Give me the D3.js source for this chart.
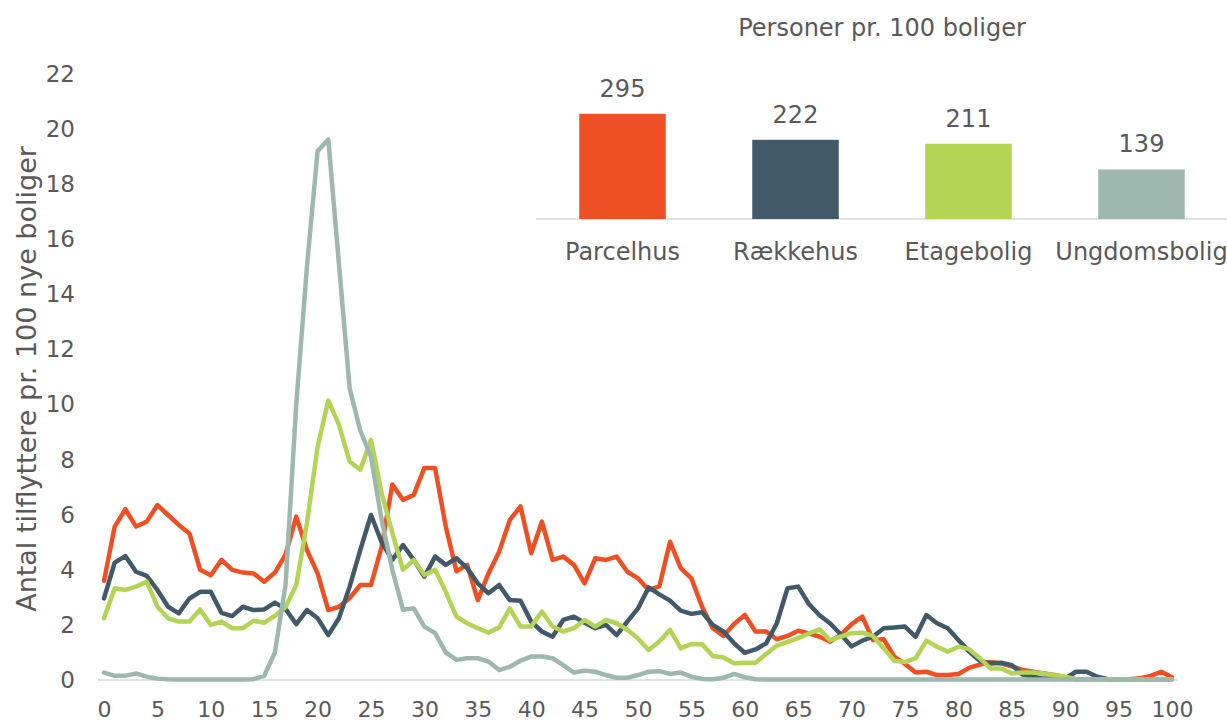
<!DOCTYPE html>
<html>
<head>
<meta charset="utf-8">
<script src="https://cdn.jsdelivr.net/npm/d3@7"></script>
<style>
  html, body { margin: 0; padding: 0; background: #ffffff; }
  svg { display: block; font-family: "DejaVu Sans", Verdana, sans-serif; }
</style>
</head>
<body>
<svg id="chart" width="1227" height="722"></svg>
<script>
// ---------- data ----------
const ages = d3.range(0, 101);
const xTicks = [0,5,10,15,20,25,30,35,40,45,50,55,60,65,70,75,80,85,90,95,100];
const yTicks = [0,2,4,6,8,10,12,14,16,18,20,22];

const parcelhus = [3.6,5.57,6.2,5.57,5.75,6.35,5.99,5.63,5.32,4.0,
  3.8,4.36,4.0,3.9,3.87,3.57,3.9,4.55,5.93,4.72,
  3.87,2.54,2.66,2.97,3.45,3.45,4.84,7.1,6.54,6.72,
  7.7,7.7,5.57,3.95,4.18,2.9,3.87,4.66,5.81,6.3,
  4.6,5.75,4.36,4.48,4.18,3.51,4.42,4.36,4.48,3.93,
  3.69,3.27,3.4,5.02,4.06,3.69,2.66,1.88,1.6,2.03,
  2.36,1.76,1.76,1.48,1.6,1.79,1.69,1.57,1.39,1.65,
  2.03,2.3,1.45,1.48,0.85,0.58,0.27,0.3,0.18,0.18,
  0.22,0.44,0.56,0.65,0.6,0.5,0.36,0.3,0.24,0.18,
  0.1,0.03,0.03,0.03,0.03,0.03,0.03,0.06,0.15,0.3,
  0.1];
const raekkehus = [2.96,4.26,4.5,3.93,3.78,3.27,2.66,2.42,2.96,3.2,
  3.2,2.44,2.32,2.66,2.54,2.56,2.81,2.58,2.03,2.54,
  2.24,1.63,2.24,3.39,4.72,5.99,5.0,4.36,4.9,4.36,
  3.75,4.48,4.18,4.42,4.06,3.51,3.15,3.45,2.9,2.88,
  2.12,1.76,1.57,2.18,2.3,2.08,1.88,2.0,1.63,2.12,
  2.6,3.36,3.11,2.88,2.52,2.4,2.46,2.0,1.76,1.33,
  0.99,1.11,1.33,2.06,3.33,3.39,2.76,2.35,2.05,1.65,
  1.22,1.43,1.57,1.88,1.91,1.94,1.57,2.36,2.06,1.88,
  1.45,1.03,0.7,0.6,0.63,0.54,0.2,0.12,0.05,0.04,
  0.05,0.3,0.3,0.12,0.03,0.03,0.03,0.03,0.03,0.03,
  0.03];
const etagebolig = [2.24,3.33,3.27,3.39,3.57,2.66,2.24,2.12,2.12,2.56,
  2.0,2.12,1.88,1.88,2.15,2.08,2.33,2.65,3.45,5.69,
  8.47,10.15,9.26,7.93,7.63,8.72,6.78,5.33,4.0,4.36,
  3.81,4.0,3.2,2.3,2.06,1.88,1.72,1.91,2.6,1.94,
  1.94,2.48,1.94,1.76,1.88,2.18,1.94,2.18,2.06,1.82,
  1.51,1.09,1.4,1.82,1.15,1.31,1.3,0.87,0.82,0.61,
  0.63,0.63,0.94,1.25,1.38,1.52,1.69,1.84,1.44,1.58,
  1.7,1.72,1.6,1.15,0.7,0.65,0.79,1.43,1.21,1.03,
  1.21,1.12,0.79,0.42,0.42,0.24,0.27,0.27,0.24,0.17,
  0.12,0.03,0.03,0.03,0.03,0.03,0.03,0.03,0.03,0.03,
  0.03];
const ungdomsbolig = [0.27,0.15,0.15,0.24,0.12,0.05,0.03,0.02,0.02,0.02,
  0.02,0.02,0.02,0.02,0.03,0.15,1.0,3.45,10.0,15.0,
  19.2,19.62,15.1,10.59,9.05,8.1,5.8,4.0,2.55,2.6,
  1.94,1.7,1.0,0.73,0.79,0.79,0.67,0.36,0.48,0.7,
  0.85,0.85,0.79,0.54,0.27,0.34,0.3,0.18,0.08,0.08,
  0.18,0.3,0.32,0.22,0.27,0.12,0.04,0.03,0.08,0.22,
  0.1,0.03,0.02,0.02,0.02,0.02,0.02,0.02,0.02,0.02,
  0.02,0.02,0.02,0.02,0.02,0.02,0.02,0.02,0.02,0.02,
  0.02,0.02,0.02,0.02,0.02,0.02,0.02,0.02,0.02,0.02,
  0.02,0.02,0.02,0.02,0.02,0.02,0.02,0.02,0.02,0.02,
  0.02];

const seriesNames = ["Parcelhus","Rækkehus","Etagebolig","Ungdomsbolig"];
const seriesColors = ["#EF5023","#425969","#B3D455","#9DB8AE"];
const personer = [295,222,211,139];

const yAxisTitle = "Antal tilflyttere pr. 100 nye boliger";
const insetTitle = "Personer pr. 100 boliger";

// ---------- main chart ----------
const svg = d3.select("#chart");
const textColor = "#595959";

const x = d3.scaleLinear().domain([0,100]).range([104,1172]);
const y = d3.scaleLinear().domain([0,22]).range([680,74]);

// baseline
svg.append("line")
  .attr("x1", 98).attr("x2", 1178)
  .attr("y1", y(0)).attr("y2", y(0))
  .attr("stroke", "#d9d9d9").attr("stroke-width", 1.5);

// x tick labels
const xAxis = d3.axisBottom(x).tickValues(xTicks).tickSize(0).tickPadding(0).tickFormat(d3.format("d"));
const gx = svg.append("g").attr("transform", "translate(0,701)").call(xAxis);
gx.select(".domain").remove();
gx.selectAll("text").attr("font-size", 22).attr("fill", textColor)
  .attr("font-family", "DejaVu Sans, Verdana, sans-serif").attr("dy", "0.71em");

// y tick labels
const yAxis = d3.axisLeft(y).tickValues(yTicks).tickSize(0).tickPadding(0).tickFormat(d3.format("d"));
const gy = svg.append("g").attr("transform", "translate(75,0)").call(yAxis);
gy.select(".domain").remove();
gy.selectAll("text").attr("font-size", 23).attr("fill", textColor)
  .attr("font-family", "DejaVu Sans, Verdana, sans-serif");

// y axis title
svg.append("text")
  .attr("transform", `translate(26,${379}) rotate(-90)`)
  .attr("text-anchor", "middle").attr("dominant-baseline", "central")
  .attr("font-size", 27).attr("fill", textColor)
  .text(yAxisTitle);

// lines
const allSeries = [parcelhus, raekkehus, etagebolig, ungdomsbolig];
const line = d3.line().x((d,i) => x(ages[i])).y(d => y(d));
svg.append("g").selectAll("path")
  .data(allSeries)
  .join("path")
  .attr("d", d => line(d))
  .attr("fill", "none")
  .attr("stroke", (d,i) => seriesColors[i])
  .attr("stroke-width", 4.5)
  .attr("stroke-linejoin", "round")
  .attr("stroke-linecap", "round");

// ---------- inset bar chart ----------
const bx = d3.scaleBand().domain(seriesNames).range([536,1228]).paddingInner(0.5).paddingOuter(0.25);
const by = d3.scaleLinear().domain([0,600]).range([219,5]);

svg.append("text")
  .attr("x", 882).attr("y", 28)
  .attr("text-anchor", "middle").attr("dominant-baseline", "central")
  .attr("font-size", 24).attr("fill", textColor)
  .text(insetTitle);

svg.append("line")
  .attr("x1", 536).attr("x2", 1227)
  .attr("y1", by(0)).attr("y2", by(0))
  .attr("stroke", "#d9d9d9").attr("stroke-width", 1.5);

svg.append("g").selectAll("rect")
  .data(personer)
  .join("rect")
  .attr("x", (d,i) => bx(seriesNames[i]))
  .attr("width", bx.bandwidth())
  .attr("y", d => by(d))
  .attr("height", d => by(0) - by(d))
  .attr("fill", (d,i) => seriesColors[i]);

svg.append("g").selectAll("text")
  .data(personer)
  .join("text")
  .attr("x", (d,i) => bx(seriesNames[i]) + bx.bandwidth()/2)
  .attr("y", d => by(d) - 25)
  .attr("text-anchor", "middle").attr("dominant-baseline", "central")
  .attr("font-size", 24).attr("fill", textColor)
  .text(d => d);

svg.append("g").selectAll("text")
  .data(seriesNames)
  .join("text")
  .attr("x", d => bx(d) + bx.bandwidth()/2)
  .attr("y", 252)
  .attr("text-anchor", "middle").attr("dominant-baseline", "central")
  .attr("font-size", 24).attr("fill", textColor)
  .text(d => d);
</script>
</body>
</html>
